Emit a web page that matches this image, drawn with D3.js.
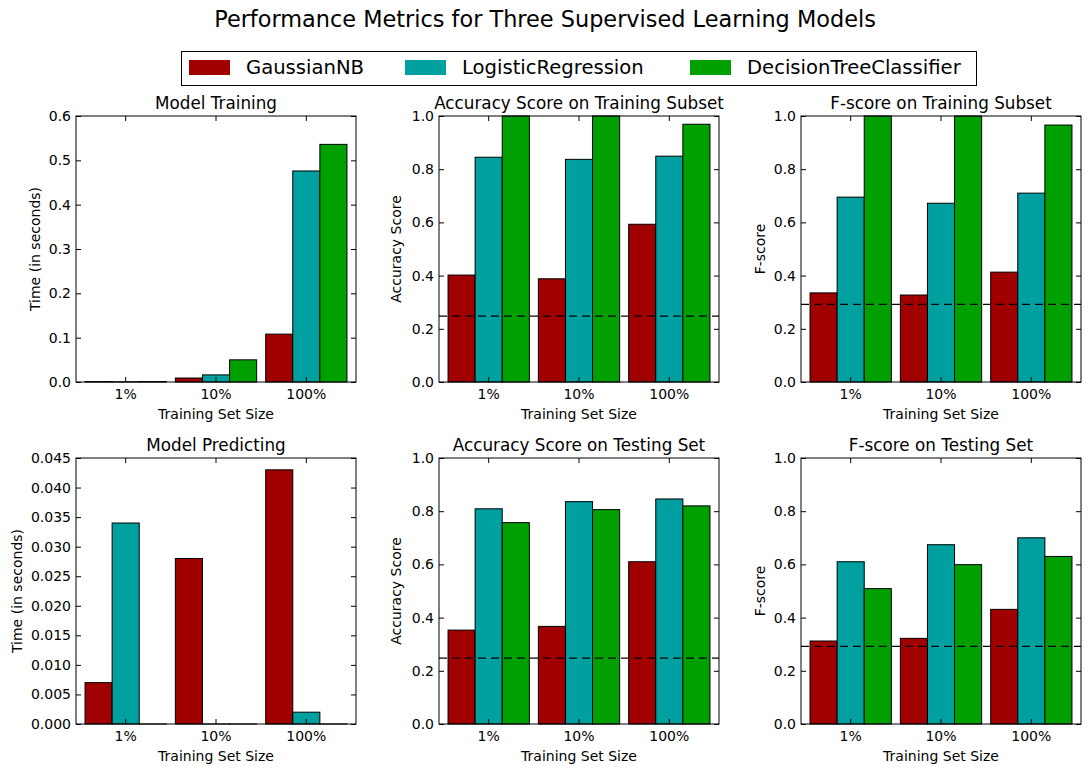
<!DOCTYPE html>
<html>
<head>
<meta charset="utf-8">
<script src="https://cdn.jsdelivr.net/npm/d3@7/dist/d3.min.js"></script>
<style>
  html, body { margin: 0; padding: 0; background: #fff; }
  svg { display: block; font-family: "DejaVu Sans", sans-serif; }
</style>
</head>
<body>
<svg id="chart" width="1090" height="775"></svg>
<script>
// ---- data ----
const categories = ["1%", "10%", "100%"];
const models = ["GaussianNB", "LogisticRegression", "DecisionTreeClassifier"];
const colors = ["#a00000", "#00a0a0", "#00a000"];

// values per model (rows) across training set sizes (columns)
const trainTime = [[0.001, 0.009, 0.108], [0.0005, 0.016, 0.476], [0.001, 0.050, 0.536]];
const accTrain  = [[0.402, 0.388, 0.593], [0.845, 0.837, 0.849], [1.0, 1.0, 0.969]];
const fTrain    = [[0.335, 0.327, 0.413], [0.695, 0.672, 0.710], [1.0, 1.0, 0.966]];
const predTime  = [[0.007, 0.028, 0.043], [0.034, 0.0, 0.002], [0.0, 0.0, 0.0]];
const accTest   = [[0.353, 0.367, 0.610], [0.809, 0.836, 0.846], [0.757, 0.806, 0.820]];
const fTest     = [[0.312, 0.322, 0.431], [0.610, 0.674, 0.700], [0.509, 0.599, 0.630]];

const accBaseline = 0.248;
const fBaseline = 0.292;

const panelTitles = ["Model Training", "Accuracy Score on Training Subset", "F-score on Training Subset",
                     "Model Predicting", "Accuracy Score on Testing Set", "F-score on Testing Set"];
const yLabels = ["Time (in seconds)", "Accuracy Score", "F-score",
                 "Time (in seconds)", "Accuracy Score", "F-score"];
const yMax = [0.6, 1.0, 1.0, 0.045, 1.0, 1.0];
const yStep = [0.1, 0.2, 0.2, 0.005, 0.2, 0.2];
const yFormat = [".1f", ".1f", ".1f", ".3f", ".1f", ".1f"];
const panelData = [trainTime, accTrain, fTrain, predTime, accTest, fTest];
const baselines = [null, accBaseline, fBaseline, null, accBaseline, fBaseline];

// ---- layout ----
const svg = d3.select("#chart");
const lefts = [76, 439, 801];
const tops = [116, 458];
const W = 280, H = 266;
const font = "DejaVu Sans";

svg.append("text")
  .attr("x", 545).attr("y", 27)
  .attr("text-anchor", "middle")
  .attr("font-size", 22.4)
  .text("Performance Metrics for Three Supervised Learning Models");

// legend
const lg = svg.append("g");
lg.append("rect").attr("x", 181.5).attr("y", 51.5).attr("width", 795).attr("height", 34)
  .attr("fill", "#fff").attr("stroke", "#000").attr("stroke-width", 1);
const legendX = [189, 405, 690];
models.forEach((m, i) => {
  lg.append("rect").attr("x", legendX[i]).attr("y", 60).attr("width", 41).attr("height", 15)
    .attr("fill", colors[i]).attr("stroke", "none");
  lg.append("text").attr("x", legendX[i] + 57).attr("y", 74)
    .attr("font-size", 19.6).text(m);
});

panelData.forEach((data, p) => {
  const col = p % 3, row = Math.floor(p / 3);
  const x0 = lefts[col], y0 = tops[row];
  const g = svg.append("g").attr("transform", `translate(${x0},${y0})`);

  const x = d3.scaleBand().domain(categories).range([0, W]).paddingInner(0.1).paddingOuter(0.1);
  const xm = d3.scaleBand().domain(models).range([0, x.bandwidth()]);
  const y = d3.scaleLinear().domain([0, yMax[p]]).range([H, 0]);
  const ticks = d3.range(0, yMax[p] + yStep[p] / 2, yStep[p]);

  // bars
  models.forEach((m, j) => {
    g.selectAll(null).data(categories).enter().append("rect")
      .attr("x", c => x(c) + xm(m))
      .attr("y", (c, k) => y(data[j][k]))
      .attr("width", xm.bandwidth())
      .attr("height", (c, k) => Math.max(0.01, H - y(data[j][k])))
      .attr("fill", colors[j])
      .attr("stroke", "#000").attr("stroke-width", 1);
  });

  // baseline
  if (baselines[p] !== null) {
    g.append("line").attr("x1", 0).attr("x2", W)
      .attr("y1", y(baselines[p])).attr("y2", y(baselines[p]))
      .attr("stroke", "#000").attr("stroke-width", 1.2).attr("stroke-dasharray", "8,5");
  }

  // axes with inward ticks
  const yl = g.append("g").call(d3.axisLeft(y).tickValues(ticks).tickFormat(d3.format(yFormat[p])).tickSize(-5).tickPadding(5));
  const yr = g.append("g").attr("transform", `translate(${W},0)`).call(d3.axisRight(y).tickValues(ticks).tickFormat("").tickSize(-5));
  const xb = g.append("g").attr("transform", `translate(0,${H})`).call(d3.axisBottom(x).tickSize(-5).tickPadding(7));
  const xt = g.append("g").call(d3.axisTop(x).tickFormat("").tickSize(-5));
  [yl, yr, xb, xt].forEach(a => {
    a.select(".domain").remove();
    a.selectAll("text").attr("font-size", 14).attr("font-family", font).attr("fill", "#000");
    a.selectAll("line").attr("stroke", "#000");
  });

  // frame
  g.append("rect").attr("x", 0).attr("y", 0).attr("width", W).attr("height", H)
    .attr("fill", "none").attr("stroke", "#000").attr("stroke-width", 1);

  // titles and labels
  g.append("text").attr("x", W / 2).attr("y", -7).attr("text-anchor", "middle")
    .attr("font-size", 16.8).text(panelTitles[p]);
  g.append("text").attr("x", W / 2).attr("y", H + 37).attr("text-anchor", "middle")
    .attr("font-size", 14).text("Training Set Size");
  const ylx = [35, 396, 760, 17, 396, 760][p] - x0;
  g.append("text").attr("transform", `translate(${ylx + 5},${H / 2}) rotate(-90)`)
    .attr("text-anchor", "middle").attr("font-size", 14).text(yLabels[p]);
});
</script>
</body>
</html>
